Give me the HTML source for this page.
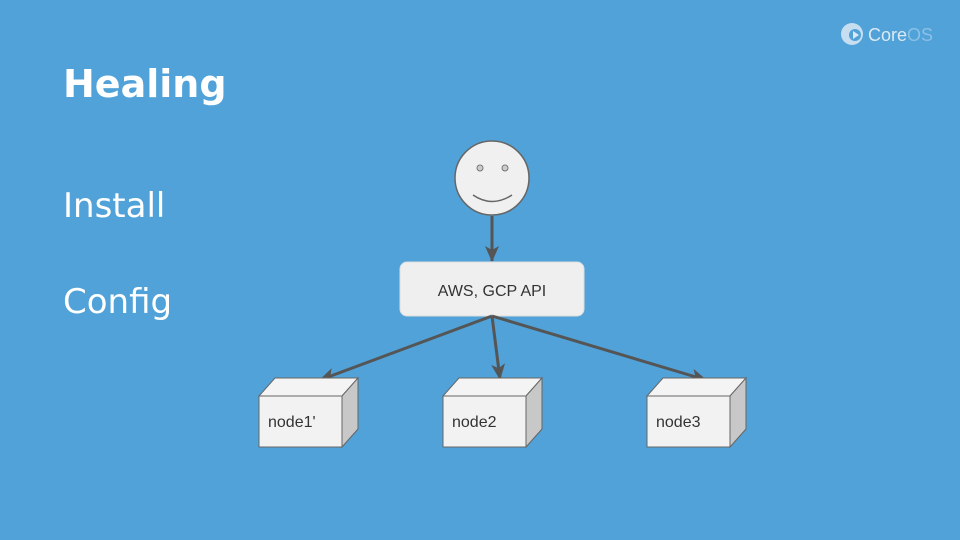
<!DOCTYPE html>
<html><head><style>
html,body{margin:0;padding:0}
body{width:960px;height:540px;background:#50a2d8;position:relative;overflow:hidden;font-family:"Liberation Sans",sans-serif}
.t{position:absolute;color:#fff;font-family:"DejaVu Sans","Liberation Sans",sans-serif}
</style></head><body>
<div class="t" style="left:63px;top:62px;font-size:38px;font-weight:bold">Healing</div>
<div class="t" style="left:63px;top:186px;font-size:34px">Install</div>
<div class="t" style="left:63px;top:282px;font-size:34px">Config</div>
<svg width="960" height="540" style="position:absolute;left:0;top:0">
<defs><marker id="a" markerWidth="16" markerHeight="14" refX="15" refY="7" orient="auto" markerUnits="userSpaceOnUse" viewBox="0 0 16 14"><path d="M0,0L16,7L0,14L4,7z" fill="#555"/></marker></defs>
<circle cx="852" cy="34" r="11" fill="#dbe9f4" opacity="0.85"/>
<circle cx="855" cy="35" r="6" fill="#50a2d8"/>
<path d="M853,31L859,35L853,39z" fill="#dbe9f4"/>
<text x="868" y="41" font-size="18" fill="#dbe9f4" font-family="Liberation Sans">Core</text>
<text x="907" y="41" font-size="18" fill="#8cc0e6" font-family="Liberation Sans">OS</text>
<circle cx="492" cy="178" r="37" fill="#f0f0f0" stroke="#666" stroke-width="1.5"/>
<circle cx="480" cy="168" r="3" fill="#ccc" stroke="#777"/>
<circle cx="505" cy="168" r="3" fill="#ccc" stroke="#777"/>
<path d="M473,195 Q492,208 512,195" fill="none" stroke="#666" stroke-width="1.5"/>
<line x1="492" y1="216" x2="492" y2="261" stroke="#555" stroke-width="3" marker-end="url(#a)"/>
<rect x="400" y="262" width="184" height="54" rx="7" fill="#efefef" stroke="#ddd"/>
<text x="492" y="296" font-size="16" text-anchor="middle" fill="#333">AWS, GCP API</text>
<line x1="492" y1="316" x2="320" y2="380" stroke="#555" stroke-width="3" marker-end="url(#a)"/>
<line x1="492" y1="316" x2="500" y2="379" stroke="#555" stroke-width="3" marker-end="url(#a)"/>
<line x1="492" y1="316" x2="706" y2="380" stroke="#555" stroke-width="3" marker-end="url(#a)"/>
<g stroke="#666" stroke-width="1">
<g transform="translate(259,396)">
<path d="M0,0L16,-18L99,-18L83,0z" fill="#f4f4f4"/><path d="M83,0L99,-18L99,33L83,51z" fill="#c8c8c8"/><rect width="83" height="51" fill="#f2f2f2"/></g>
<g transform="translate(443,396)">
<path d="M0,0L16,-18L99,-18L83,0z" fill="#f4f4f4"/><path d="M83,0L99,-18L99,33L83,51z" fill="#c8c8c8"/><rect width="83" height="51" fill="#f2f2f2"/></g>
<g transform="translate(647,396)">
<path d="M0,0L16,-18L99,-18L83,0z" fill="#f4f4f4"/><path d="M83,0L99,-18L99,33L83,51z" fill="#c8c8c8"/><rect width="83" height="51" fill="#f2f2f2"/></g>
</g>
<g font-size="16" fill="#333">
<text x="268" y="427">node1'</text>
<text x="452" y="427">node2</text>
<text x="656" y="427">node3</text>
</g>
</svg>
</body></html>
